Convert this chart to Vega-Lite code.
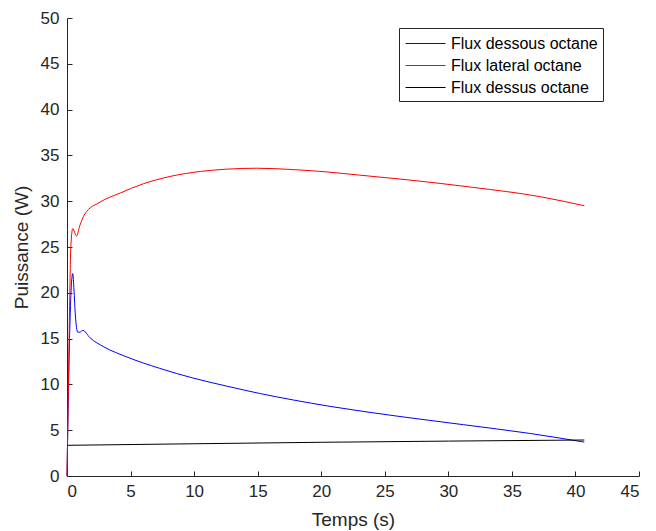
{
  "$schema": "https://vega.github.io/schema/vega-lite/v6.json",
  "width": 572,
  "height": 458,
  "autosize": {"type": "none"},
  "padding": {"left": 67, "top": 18, "right": 17, "bottom": 55},
  "background": "white",
  "config": {
    "view": {"stroke": null},
    "font": "Liberation Sans",
    "axis": {
      "grid": false,
      "domainColor": "#262626",
      "tickColor": "#262626",
      "labelColor": "#262626",
      "titleColor": "#262626",
      "labelFont": "Liberation Sans",
      "titleFont": "Liberation Sans",
      "labelFontSize": 17,
      "titleFontSize": 19,
      "titleFontWeight": "normal",
      "tickSize": -5,
      "domainWidth": 1,
      "tickWidth": 1
    }
  },
  "data": {
    "values": [
      {"t": 0, "p": 0, "s": "Flux dessous octane"},
      {"t": 0.2, "p": 15, "s": "Flux dessous octane"},
      {"t": 0.35, "p": 21, "s": "Flux dessous octane"},
      {"t": 0.45, "p": 22.1, "s": "Flux dessous octane"},
      {"t": 0.55, "p": 20.3, "s": "Flux dessous octane"},
      {"t": 0.65, "p": 17.7, "s": "Flux dessous octane"},
      {"t": 0.85, "p": 15.7, "s": "Flux dessous octane"},
      {"t": 1.0, "p": 15.7, "s": "Flux dessous octane"},
      {"t": 1.25, "p": 15.9, "s": "Flux dessous octane"},
      {"t": 1.8, "p": 15.1, "s": "Flux dessous octane"},
      {"t": 2.9, "p": 14.1, "s": "Flux dessous octane"},
      {"t": 4.7, "p": 13.0, "s": "Flux dessous octane"},
      {"t": 7.3, "p": 11.75, "s": "Flux dessous octane"},
      {"t": 9.9, "p": 10.7, "s": "Flux dessous octane"},
      {"t": 12.6, "p": 9.8, "s": "Flux dessous octane"},
      {"t": 15.2, "p": 9.0, "s": "Flux dessous octane"},
      {"t": 17.8, "p": 8.3, "s": "Flux dessous octane"},
      {"t": 20.7, "p": 7.6, "s": "Flux dessous octane"},
      {"t": 25.9, "p": 6.55, "s": "Flux dessous octane"},
      {"t": 31.2, "p": 5.6, "s": "Flux dessous octane"},
      {"t": 36.4, "p": 4.65, "s": "Flux dessous octane"},
      {"t": 40.7, "p": 3.7, "s": "Flux dessous octane"},
      {"t": 0, "p": 0, "s": "Flux lateral octane"},
      {"t": 0.1, "p": 9, "s": "Flux lateral octane"},
      {"t": 0.2, "p": 18, "s": "Flux lateral octane"},
      {"t": 0.3, "p": 25, "s": "Flux lateral octane"},
      {"t": 0.45, "p": 27, "s": "Flux lateral octane"},
      {"t": 0.75, "p": 26.2, "s": "Flux lateral octane"},
      {"t": 1.0, "p": 27.3, "s": "Flux lateral octane"},
      {"t": 1.4, "p": 28.6, "s": "Flux lateral octane"},
      {"t": 2.6, "p": 29.9, "s": "Flux lateral octane"},
      {"t": 4.2, "p": 30.9, "s": "Flux lateral octane"},
      {"t": 6.0, "p": 31.9, "s": "Flux lateral octane"},
      {"t": 8.1, "p": 32.7, "s": "Flux lateral octane"},
      {"t": 10.5, "p": 33.25, "s": "Flux lateral octane"},
      {"t": 12.6, "p": 33.5, "s": "Flux lateral octane"},
      {"t": 14.9, "p": 33.6, "s": "Flux lateral octane"},
      {"t": 17.8, "p": 33.45, "s": "Flux lateral octane"},
      {"t": 20.4, "p": 33.2, "s": "Flux lateral octane"},
      {"t": 23.0, "p": 32.85, "s": "Flux lateral octane"},
      {"t": 26.7, "p": 32.35, "s": "Flux lateral octane"},
      {"t": 32.0, "p": 31.5, "s": "Flux lateral octane"},
      {"t": 37.2, "p": 30.5, "s": "Flux lateral octane"},
      {"t": 40.7, "p": 29.5, "s": "Flux lateral octane"},
      {"t": 0, "p": 3.35, "s": "Flux dessus octane"},
      {"t": 10, "p": 3.52, "s": "Flux dessus octane"},
      {"t": 20, "p": 3.68, "s": "Flux dessus octane"},
      {"t": 30, "p": 3.81, "s": "Flux dessus octane"},
      {"t": 40.7, "p": 3.93, "s": "Flux dessus octane"}
    ]
  },
  "mark": {"type": "line", "strokeWidth": 1, "interpolate": "monotone"},
  "encoding": {
    "x": {
      "field": "t", "type": "quantitative", "title": "Temps (s)",
      "scale": {"domain": [0, 45], "nice": false},
      "axis": {"values": [0, 5, 10, 15, 20, 25, 30, 35, 40, 45], "labelPadding": 12, "titlePadding": 11}
    },
    "y": {
      "field": "p", "type": "quantitative", "title": "Puissance (W)",
      "scale": {"domain": [0, 50], "nice": false},
      "axis": {"values": [0, 5, 10, 15, 20, 25, 30, 35, 40, 45, 50], "labelPadding": 13, "titlePadding": 9}
    },
    "color": {
      "field": "s", "type": "nominal",
      "scale": {
        "domain": ["Flux dessous octane", "Flux lateral octane", "Flux dessus octane"],
        "range": ["#0000ff", "#ff0000", "#000000"]
      },
      "legend": {
        "title": null,
        "orient": "none",
        "legendX": 332,
        "legendY": 10,
        "symbolType": "M-2,0H2",
        "symbolSize": 400,
        "symbolStrokeWidth": 1,
        "symbolOffset": 11,
        "labelOffset": 15,
        "labelFont": "Liberation Sans",
        "labelFontSize": 16,
        "labelColor": "#000000",
        "labelLimit": 300,
        "rowPadding": 3,
        "padding": 5,
        "strokeColor": "#262626",
        "fillColor": "white",
        "cornerRadius": 0
      }
    }
  }
}
